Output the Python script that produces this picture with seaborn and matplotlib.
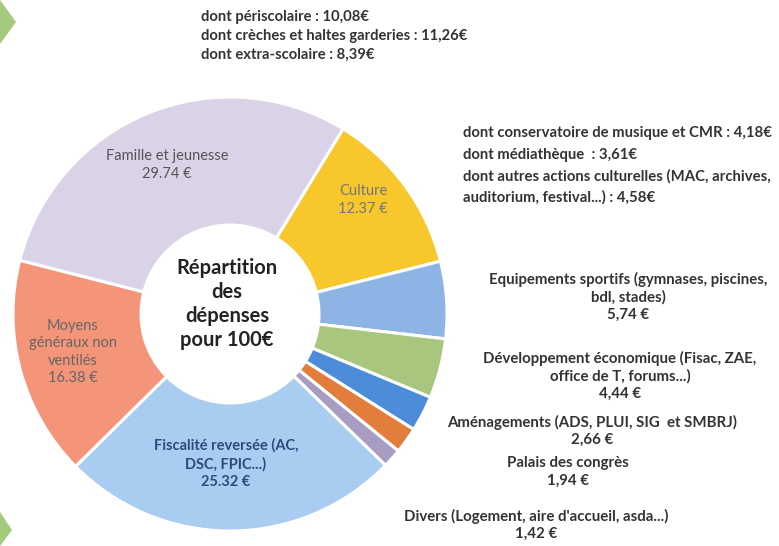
import numpy as np
import matplotlib
matplotlib.use("Agg")
import matplotlib.pyplot as plt
import seaborn as sns
from matplotlib.patches import Polygon

# Data (clockwise, starting with Culture)
categories = ["Culture", "Equipements sportifs", "Développement économique",
              "Aménagements", "Palais des congrès", "Divers",
              "Fiscalité reversée", "Moyens généraux non ventilés",
              "Famille et jeunesse"]
values = [12.37, 5.74, 4.44, 2.66, 1.94, 1.42, 25.32, 16.38, 29.74]
colors = ["#F7C72C", "#8EB4E6", "#A8C67E", "#4C8CD8", "#E27D3C",
          "#A99CC2", "#A9CCF1", "#F4957A", "#DAD3E7"]

famille_detail = ["dont périscolaire : 10,08€",
                  "dont crèches et haltes garderies : 11,26€",
                  "dont extra-scolaire : 8,39€"]
culture_detail = ["dont conservatoire de musique et CMR : 4,18€",
                  "dont médiathèque  : 3,61€",
                  "dont autres actions culturelles (MAC, archives,",
                  "auditorium, festival...) : 4,58€"]

sns.set_style("white")
plt.rcParams['font.family'] = ['Lato', 'DejaVu Sans']

W, H = 779, 546
fig = plt.figure(figsize=(W / 100, H / 100), dpi=100)
ax = fig.add_axes([0, 0, 1, 1])

cx, cy, r = 230, H - 314, 217
wedges, _ = ax.pie(values, colors=colors, startangle=58.6, counterclock=False,
                   center=(cx, cy), radius=r,
                   wedgeprops=dict(width=128, edgecolor="white", linewidth=2.2))
ax.set_xlim(0, W)
ax.set_ylim(0, H)
ax.set_aspect("equal")
ax.axis("off")


def t(x, ytop, s, **kw):
    ax.text(x, H - ytop, s, **kw)


# centre title
t(227, 304, "Répartition\ndes\ndépenses\npour 100€", ha="center", va="center",
  fontsize=14.5, fontweight="bold", color="#222222", linespacing=1.25)

# labels inside wedges
t(167, 165, "Famille et jeunesse\n29.74 €", ha="center", va="center",
  fontsize=10.5, color="#555555", linespacing=1.35)
t(363, 200, "Culture\n12.37 €", ha="center", va="center",
  fontsize=10.5, color="#777777", linespacing=1.35)
t(73, 352, "Moyens\ngénéraux non\nventilés\n16.38 €", ha="center", va="center",
  fontsize=10.5, color="#666666", linespacing=1.3)
t(226, 464, "Fiscalité reversée (AC,\nDSC, FPIC...)\n25.32 €", ha="center",
  va="center", fontsize=10.5, color="#2E4C7A", fontweight="bold",
  linespacing=1.35)

# detail notes
for i, line in enumerate(famille_detail):
    t(201, 17 + 19 * i, line, ha="left", va="center", fontsize=10.6,
      fontweight="bold", color="#333333")
for i, line in enumerate(culture_detail):
    t(463, 133 + 21.5 * i, line, ha="left", va="center", fontsize=10.7,
      fontweight="bold", color="#333333")

# labels for small wedges on the right
right_labels = [
    (628, 297, "Equipements sportifs (gymnases, piscines,\nbdl, stades)\n5,74 €"),
    (620, 376, "Développement économique (Fisac, ZAE,\noffice de T, forums...)\n4,44 €"),
    (592, 431, "Aménagements (ADS, PLUI, SIG  et SMBRJ)\n2,66 €"),
    (568, 472, "Palais des congrès\n1,94 €"),
    (536, 525, "Divers (Logement, aire d'accueil, asda...)\n1,42 €"),
]
for x, y, s in right_labels:
    t(x, y, s, ha="center", va="center", fontsize=10.8, fontweight="bold",
      color="#333333", linespacing=1.3)

# decorative green arrows on the left edge
for pts in ([(0, 0), (16, 22), (0, 44)], [(0, 512), (12, 530), (0, 546)]):
    ax.add_patch(Polygon([(px, H - py) for px, py in pts], closed=True,
                         color="#8DBE5C", alpha=0.8, lw=0))

fig.savefig("out.png", dpi=100)
